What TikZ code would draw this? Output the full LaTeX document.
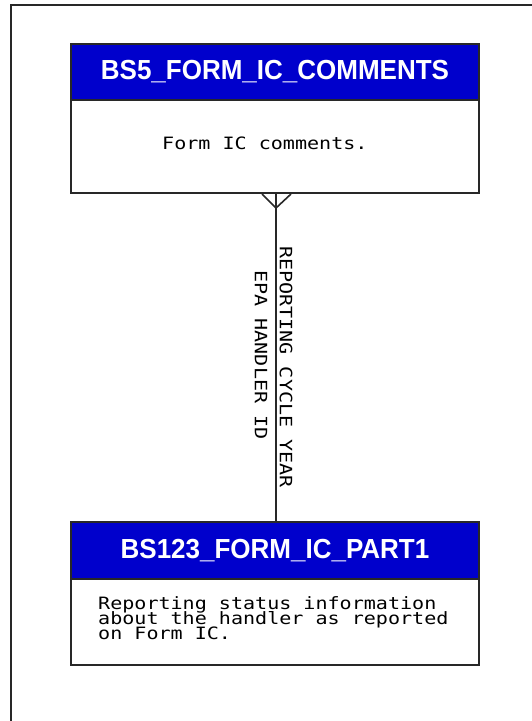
\documentclass[tikz,border=0pt]{standalone}
\usepackage{fontspec}
\setmainfont{Liberation Sans}
\newfontfamily\monofnt[FakeStretch=1.18]{DejaVu Sans Mono}
\newcommand\myTightLines{\setlength{\lineskiplimit}{-100pt}}
\newcommand\myMono{\monofnt\fontsize{17}{15}\selectfont\myTightLines}
\definecolor{hdrblue}{RGB}{0,0,204}
\definecolor{edge}{RGB}{40,40,40}
\begin{document}
\begin{tikzpicture}[x=1pt,y=-1pt,
  hdr/.style={draw=edge,line width=2pt,fill=hdrblue,minimum width=408pt,inner sep=0pt,
    text=white,font=\bfseries\fontsize{26}{30}\selectfont},
  body/.style={draw=edge,line width=2pt,fill=white,minimum width=408pt,inner sep=0pt},
  mono/.style={inner sep=0pt,font=\myMono},
  conn/.style={draw=edge,line width=1.6pt}]
\useasboundingbox (0,0) rectangle (532,721);
\fill[white] (0,0) rectangle (532,721);
\draw[edge,line width=2pt] (11,721) -- (11,5) -- (532,5);
% top entity
\node[body,minimum height=93pt] (tb) at (275,146.5) {};
\node[hdr,minimum height=56pt] (th) at (275,72) {\scalebox{1}[1.06]{BS5\_FORM\_IC\_COMMENTS}};
\node[mono,anchor=west] (tt) at (162,143) {Form IC comments.};
% bottom entity
\node[body,minimum height=86pt] (bb) at (275,622) {};
\node[hdr,minimum height=57pt] (bh) at (275,550.5) {\scalebox{1}[1.06]{BS123\_FORM\_IC\_PART1}};
\node[mono,anchor=base west,align=left] (bt) at (98,639) {Reporting status information\\about the handler as reported\\on Form IC.};
% connector
\coordinate (ctop) at ([xshift=1pt]tb.south);
\coordinate (cbot) at ([xshift=1pt]bh.north);
\draw[conn] (ctop) -- (cbot);
\draw[conn] ([xshift=-14pt]ctop) -- ([yshift=-14pt]ctop) -- ([xshift=15pt]ctop);
\node[mono,rotate=-90] (l1) at (286,367) {REPORTING CYCLE YEAR};
\node[mono,rotate=-90] (l2) at (261,355) {EPA HANDLER ID};
\end{tikzpicture}
\end{document}
